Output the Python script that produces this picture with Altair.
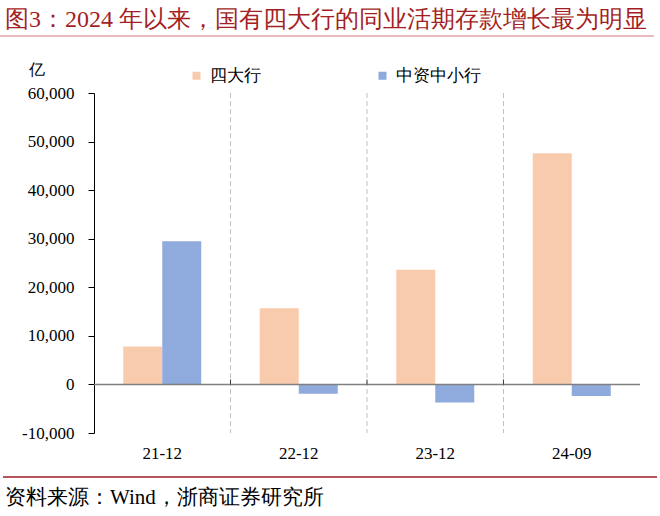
import altair as alt
import pandas as pd

categories = ["21-12", "22-12", "23-12", "24-09"]
series = ["四大行", "中资中小行"]
big4 = [7800, 15700, 23600, 47600]
smaller = [29500, -1900, -3700, -2400]
colors = ["#F8CBAD", "#8FAADC"]

title_text = "图3：2024 年以来，国有四大行的同业活期存款增长最为明显"
source_text = "资料来源：Wind，浙商证券研究所"
unit_text = "亿"
y_ticks = [-10000, 0, 10000, 20000, 30000, 40000, 50000, 60000]

rows = []
for c, a, b in zip(categories, big4, smaller):
    rows.append({"cat": c, "series": series[0], "value": a})
    rows.append({"cat": c, "series": series[1], "value": b})
df = pd.DataFrame(rows)
div_df = pd.DataFrame({"cat": categories[1:]})
one = pd.DataFrame({"k": [0]})

FONT = "Liberation Serif"
W, H = 546, 340

xscale = alt.Scale(domain=categories, paddingInner=0, paddingOuter=0)
xaxis = alt.Axis(domain=False, ticks=False, labelAngle=0, labelFont=FONT,
                 labelFontSize=17, labelColor="#000000", labelPadding=12, grid=False)

dividers = alt.Chart(div_df).mark_rule(color="#c0c0c0", strokeDash=[5, 3], strokeWidth=1).encode(
    x=alt.X("cat:N", sort=categories, scale=xscale, bandPosition=0, title=None, axis=xaxis),
)

bars = alt.Chart(df).mark_bar().encode(
    x=alt.X("cat:N", sort=categories, scale=xscale, title=None, axis=xaxis),
    xOffset=alt.XOffset("series:N", sort=series,
                        scale=alt.Scale(domain=series, paddingInner=0, paddingOuter=0.75)),
    y=alt.Y("value:Q", title=None,
            scale=alt.Scale(domain=[-10000, 60000], nice=False, zero=False),
            axis=alt.Axis(values=y_ticks, grid=False, domainColor="#000000", tickColor="#000000",
                          tickSize=6, labelFont=FONT, labelFontSize=17, labelColor="#000000",
                          labelPadding=14,
                          labelExpr="replace(format(datum.value, ','), '−', '-')")),
    color=alt.Color("series:N", sort=series,
                    scale=alt.Scale(domain=series, range=colors),
                    legend=alt.Legend(orient="none", legendX=94, legendY=-26, direction="horizontal",
                                      title=None, symbolType="square", symbolSize=64,
                                      symbolStrokeWidth=0, labelFont=FONT, labelFontSize=17,
                                      labelColor="#000000", columnPadding=113, padding=0,
                                      labelOffset=5)),
)

zero = alt.Chart(one).mark_rule(color="#808080", strokeWidth=1.5).encode(
    y=alt.datum(0)
)

zticks = alt.Chart(div_df).mark_rule(color="#404040", strokeWidth=1, y2Offset=-5).encode(
    x=alt.X("cat:N", sort=categories, scale=xscale, bandPosition=0, title=None, axis=xaxis),
    y=alt.datum(0),
    y2=alt.datum(0),
)

title = alt.Chart(one).mark_text(text=title_text, align="left", baseline="middle",
                                 font=FONT, fontSize=24, fontWeight="normal", color="#A31F24").encode(
    x=alt.value(-89), y=alt.value(-73)
)
title_line = alt.Chart(one).mark_rule(color="#C0393F", strokeWidth=1, opacity=0.7).encode(
    x=alt.value(-94), x2=alt.value(W + 14), y=alt.value(-57)
)
unit = alt.Chart(one).mark_text(text=unit_text, align="center", baseline="middle",
                                font=FONT, fontSize=16, fontWeight="normal", color="#000000").encode(
    x=alt.value(-57), y=alt.value(-23)
)
bottom_line = alt.Chart(one).mark_rule(color="#9E1B22", strokeWidth=1.5).encode(
    x=alt.value(-91), x2=alt.value(W + 17), y=alt.value(384)
)
source = alt.Chart(one).mark_text(text=source_text, align="left", baseline="middle",
                                  font=FONT, fontSize=21, fontWeight="normal", color="#000000").encode(
    x=alt.value(-89), y=alt.value(498 - 93)
)

chart = alt.layer(dividers, bars, zero, zticks, title, title_line, unit, bottom_line, source).properties(
    width=W, height=H,
    autosize=alt.AutoSizeParams(type="none"),
    padding={"left": 94, "top": 93, "right": 20, "bottom": 83},
    background="white",
).configure_view(stroke=None)

chart.save("out.html", embed_options={"renderer": "svg", "actions": False})
